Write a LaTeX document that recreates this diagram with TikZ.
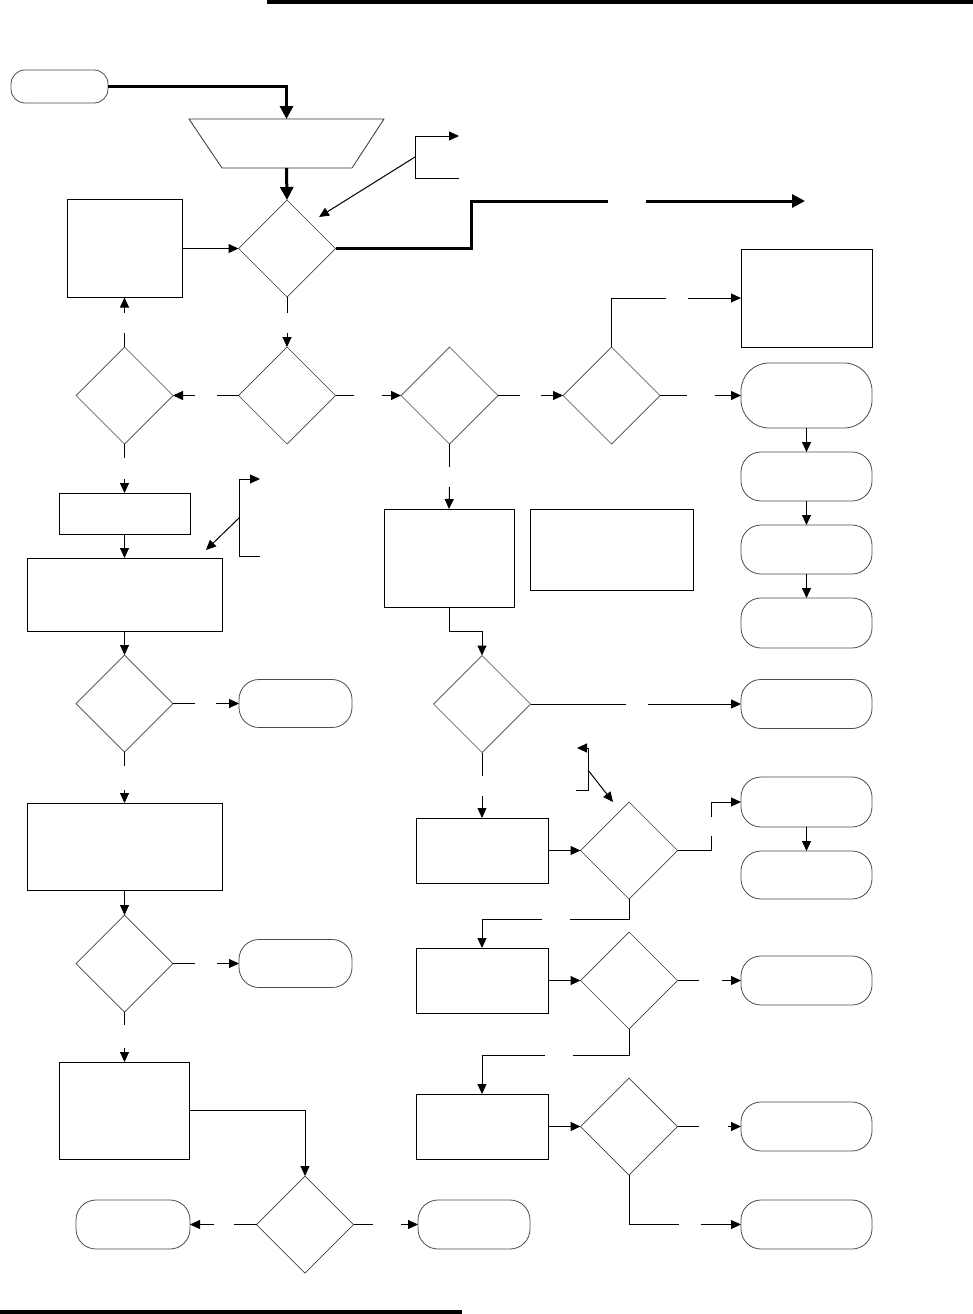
\documentclass[tikz,border=0pt]{standalone}
\usetikzlibrary{shapes.geometric,arrows.meta}
\tikzset{
  box/.style={draw=black,line width=1pt,rectangle,inner sep=0pt,outer sep=0pt},
  dia/.style={draw=black!75,line width=0.7pt,diamond,aspect=1,minimum width=97pt,minimum height=97pt,inner sep=0pt,outer sep=0pt},
  term/.style={draw=black!70,line width=0.8pt,rectangle,rounded corners=20pt,minimum width=131pt,minimum height=49pt,inner sep=0pt,outer sep=0pt},
  conn/.style={line width=1pt,draw=black},
  arr/.style={conn,-{Triangle[length=10pt,width=9pt]}},
  thk/.style={line width=3pt,draw=black},
  thkarr/.style={thk,-{Triangle[length=13pt,width=13pt]}},
  bar/.style={fill=black}
}
\begin{document}
\begin{tikzpicture}[x=1pt,y=-1pt]
\useasboundingbox (0,0) rectangle (973,1314);
% page rules
\fill (267,0) rectangle (973,4);
\fill (0,1310) rectangle (462,1314);

% ---- nodes ----
\node[term,minimum width=97pt,minimum height=33pt,rounded corners=14pt] (start) at (59.5,86.5) {};
\node[minimum width=195pt,minimum height=49pt,inner sep=0pt,outer sep=0pt] (inp) at (286.5,143.5) {};
\draw[line width=0.8pt,draw=black!80] (189,119) -- (384,119) -- (352,168) -- (222,168) -- cycle;
\node[dia] (d1) at (287,248.5) {};
\node[box,minimum width=115pt,minimum height=98pt] (bL1) at (124.5,248.5) {};
\node[box,minimum width=131pt,minimum height=98pt] (bR1) at (806.5,298) {};

\node[dia] (d2L) at (124.5,395.5) {};
\node[dia] (d2) at (287,395.5) {};
\node[dia] (d3) at (449.5,395.5) {};
\node[dia] (d4) at (611.5,395.5) {};
\node[term,minimum height=65pt,rounded corners=28pt] (tR1) at (806.5,395.5) {};
\node[term] (tR2) at (806.5,476.5) {};
\node[term] (tR3) at (806.5,549.5) {};
\node[term,minimum height=50pt] (tR4) at (806.5,623) {};

\node[box,minimum width=131pt,minimum height=41pt] (bS) at (124.5,513.5) {};
\node[box,minimum width=195pt,minimum height=73pt] (bBig1) at (124.5,594.5) {};
\node[box,minimum width=130pt,minimum height=98pt] (bM) at (449,558) {};
\node[box,minimum width=163pt,minimum height=81pt] (bRM) at (611.5,549.5) {};

\node[dia] (d5L) at (124.5,703.5) {};
\node[term,minimum width=113pt,minimum height=48pt] (t5L) at (295.5,703.5) {};
\node[dia] (d5) at (482,704) {};
\node[term] (tR5) at (806.5,704) {};

\node[box,minimum width=195pt,minimum height=87pt] (bBig2) at (124.5,846.5) {};
\node[dia] (d6L) at (124.5,963.5) {};
\node[term,minimum width=113pt,minimum height=48pt] (t6L) at (295.5,963.5) {};

\node[box,minimum width=132pt,minimum height=65pt] (bA) at (482,850.5) {};
\node[dia] (dN) at (629,850.5) {};
\node[term,minimum height=50pt] (tR6) at (806.5,802) {};
\node[term,minimum height=48pt] (tR7) at (806.5,875) {};

\node[box,minimum width=132pt,minimum height=65pt] (bB) at (482,980.5) {};
\node[dia] (dO) at (629,980.5) {};
\node[term] (tR8) at (806.5,980.5) {};

\node[box,minimum width=132pt,minimum height=65pt] (bC) at (482,1126.5) {};
\node[dia] (dP) at (629,1126.5) {};
\node[term] (tR9) at (806.5,1126.5) {};
\node[term] (tR10) at (806.5,1224.5) {};

\node[box,minimum width=130pt,minimum height=97pt] (bL3) at (124.5,1110.5) {};
\node[dia] (dB) at (305,1224.5) {};
\node[term,minimum width=114pt] (tBL) at (133,1224.5) {};
\node[term,minimum width=112pt] (tBR) at (474,1224.5) {};

% ---- gap coordinates ----
\coordinate (gA) at (608,201);
\coordinate (gB) at (646,201);
\coordinate (gC) at (805,201);
\coordinate (g1a) at (287,313);  \coordinate (g1b) at (287,333);
\coordinate (g2a) at (124.5,333); \coordinate (g2b) at (124.5,313);
\coordinate (g3a) at (217,395.5); \coordinate (g3b) at (195,395.5);
\coordinate (g4a) at (354,395.5); \coordinate (g4b) at (382,395.5);
\coordinate (g5a) at (520,395.5); \coordinate (g5b) at (541,395.5);
\coordinate (g6a) at (687,395.5); \coordinate (g6b) at (715,395.5);
\coordinate (g7a) at (666,298);   \coordinate (g7b) at (688,298);
\coordinate (g8a) at (124.5,458); \coordinate (g8b) at (124.5,479);
\coordinate (g9a) at (449.5,467); \coordinate (g9b) at (449.5,487);
\coordinate (g10a) at (195,703.5); \coordinate (g10b) at (216,703.5);
\coordinate (g11a) at (124.5,766); \coordinate (g11b) at (124.5,790);
\coordinate (g12a) at (195,963.5); \coordinate (g12b) at (217,963.5);
\coordinate (g13a) at (124.5,1025); \coordinate (g13b) at (124.5,1048);
\coordinate (g14a) at (234,1224.5); \coordinate (g14b) at (214,1224.5);
\coordinate (g15a) at (373,1224.5); \coordinate (g15b) at (401,1224.5);
\coordinate (g16a) at (626,704); \coordinate (g16b) at (648,704);
\coordinate (g17a) at (482,776); \coordinate (g17b) at (482,796);
\coordinate (g18a) at (711,836); \coordinate (g18b) at (711,817);
\coordinate (g19a) at (570,919); \coordinate (g19b) at (542,919);
\coordinate (g20a) at (699,980.5); \coordinate (g20b) at (722,980.5);
\coordinate (g21a) at (573,1055); \coordinate (g21b) at (545,1055);
\coordinate (g22a) at (699,1126.5); \coordinate (g22b) at (728,1126.5);
\coordinate (g23a) at (679,1224.5); \coordinate (g23b) at (701,1224.5);

% brackets
\coordinate (br1t) at (459,136); \coordinate (br1b) at (459,178);
\coordinate (br1m) at (415,157); \coordinate (br1x) at (319,217);
\coordinate (br2t) at (260,479); \coordinate (br2b) at (260,556);
\coordinate (br2m) at (239,518); \coordinate (br2x) at (206,550);
\coordinate (br3t) at (577,748); \coordinate (br3b) at (576,790);
\coordinate (br3m) at (588,770); \coordinate (br3x) at (613,802);

% ---- connectors ----
\draw[thkarr] (start.east) -| (inp.north);
\draw[thkarr] (inp.south) -- (d1.north);
\draw[thk] (d1.east) -- (471,248.5) |- (gA);
\draw[thkarr] (gB) -- (gC);
\draw[arr] (bL1.east) -- (d1.west);

\draw[arr] (br1b) -- (415,178) -- (415,136) -- (br1t);
\draw[arr] (br1m) -- (br1x);

\draw[conn] (d1.south) -- (g1a);
\draw[arr] (g1b) -- (d2.north);
\draw[conn] (d2L.north) -- (g2a);
\draw[arr] (g2b) -- (bL1.south);
\draw[conn] (d2.west) -- (g3a);
\draw[arr] (g3b) -- (d2L.east);
\draw[conn] (d2.east) -- (g4a);
\draw[arr] (g4b) -- (d3.west);
\draw[conn] (d3.east) -- (g5a);
\draw[arr] (g5b) -- (d4.west);
\draw[conn] (d4.east) -- (g6a);
\draw[arr] (g6b) -- (tR1.west);
\draw[conn] (d4.north) |- (g7a);
\draw[arr] (g7b) -- (bR1.west);
\draw[arr] (tR1.south) -- (tR2.north);
\draw[arr] (tR2.south) -- (tR3.north);
\draw[arr] (tR3.south) -- (tR4.north);

\draw[conn] (d2L.south) -- (g8a);
\draw[arr] (g8b) -- (bS.north);
\draw[arr] (bS.south) -- (bBig1.north);
\draw[arr] (br2b) -- (239,556) -- (239,479) -- (br2t);
\draw[arr] (br2m) -- (br2x);

\draw[conn] (d3.south) -- (g9a);
\draw[arr] (g9b) -- (bM.north);
\draw[arr] (bM.south) -- (449,631) -| (d5.north);

\draw[arr] (bBig1.south) -- (d5L.north);
\draw[conn] (d5L.east) -- (g10a);
\draw[arr] (g10b) -- (t5L.west);
\draw[conn] (d5L.south) -- (g11a);
\draw[arr] (g11b) -- (bBig2.north);
\draw[arr] (bBig2.south) -- (d6L.north);
\draw[conn] (d6L.east) -- (g12a);
\draw[arr] (g12b) -- (t6L.west);
\draw[conn] (d6L.south) -- (g13a);
\draw[arr] (g13b) -- (bL3.north);
\draw[arr] (bL3.east) -| (dB.north);
\draw[conn] (dB.west) -- (g14a);
\draw[arr] (g14b) -- (tBL.east);
\draw[conn] (dB.east) -- (g15a);
\draw[arr] (g15b) -- (tBR.west);

\draw[conn] (d5.east) -- (g16a);
\draw[arr] (g16b) -- (tR5.west);
\draw[conn] (d5.south) -- (g17a);
\draw[arr] (g17b) -- (bA.north);
\draw[arr] (bA.east) -- (dN.west);
\draw[arr] (br3b) -- (588,790) -- (588,748) -- (br3t);
\draw[arr] (br3m) -- (br3x);
\draw[conn] (dN.east) -| (g18a);
\draw[arr] (g18b) |- (tR6.west);
\draw[arr] (tR6.south) -- (tR7.north);
\draw[conn] (dN.south) |- (g19a);
\draw[arr] (g19b) -| (bB.north);
\draw[arr] (bB.east) -- (dO.west);
\draw[conn] (dO.east) -- (g20a);
\draw[arr] (g20b) -- (tR8.west);
\draw[conn] (dO.south) |- (g21a);
\draw[arr] (g21b) -| (bC.north);
\draw[arr] (bC.east) -- (dP.west);
\draw[conn] (dP.east) -- (g22a);
\draw[arr] (g22b) -- (tR9.west);
\draw[conn] (dP.south) |- (g23a);
\draw[arr] (g23b) -- (tR10.west);
\end{tikzpicture}
\end{document}
